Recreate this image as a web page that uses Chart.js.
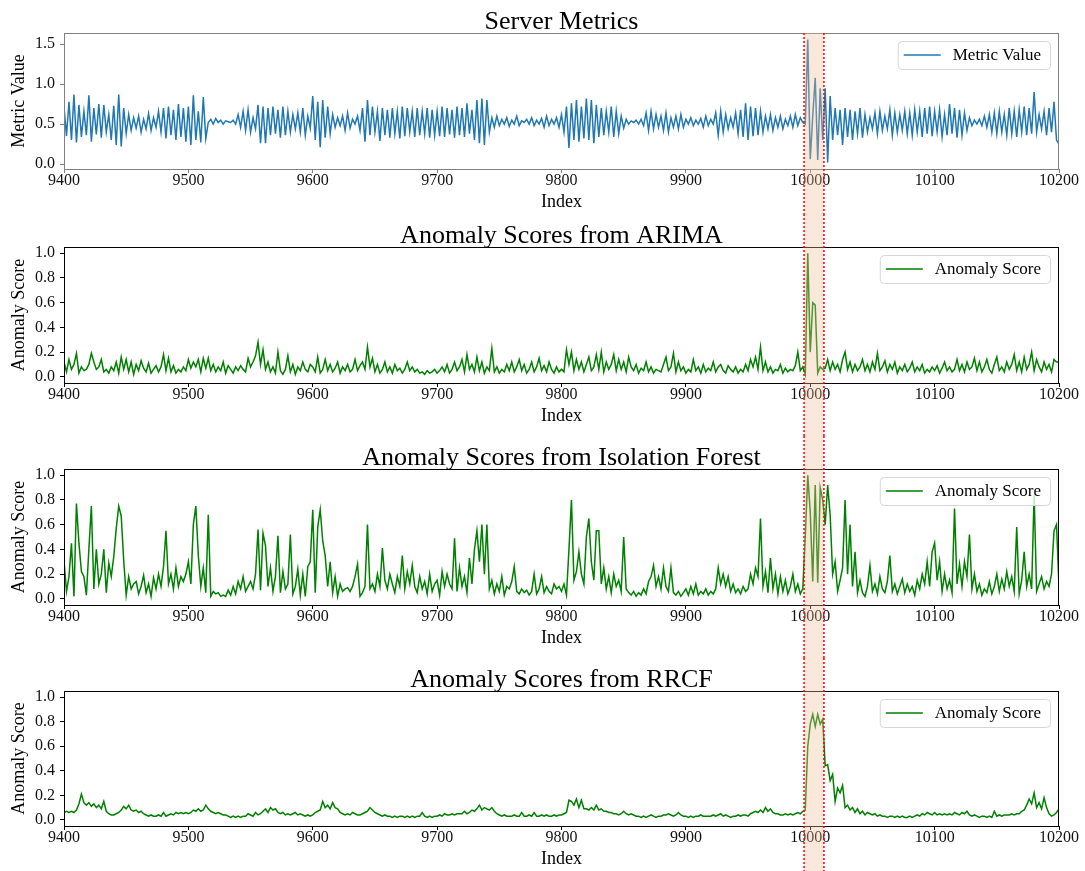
<!DOCTYPE html>
<html>
<head>
<meta charset="utf-8">
<script src="https://cdn.jsdelivr.net/npm/chart.js@4.4.0/dist/chart.umd.min.js"></script>
<style>
  body { margin: 0; background: #fff; }
  #fig { width: 1085px; height: 871px; }
  canvas { display: block; }
</style>
</head>
<body>
<div id="fig">
  <canvas id="c1" width="1085" height="214"></canvas>
  <canvas id="c2" width="1085" height="222"></canvas>
  <canvas id="c3" width="1085" height="222"></canvas>
  <canvas id="c4" width="1085" height="213"></canvas>
</div>
<script>
const SERIF = "'Liberation Serif', 'Times New Roman', serif";

// index axis
const xStart = 9400;
const xTicks = [9400, 9500, 9600, 9700, 9800, 9900, 10000, 10100, 10200];
const metricTicks = [0, 0.5, 1.0, 1.5];
const scoreTicks = [0, 0.2, 0.4, 0.6, 0.8, 1.0];
const anomalyWindow = [9995, 10011];

// all series read every 2 indices
const step = 2;

const metricValue = [
  0.72,0.35,0.78,0.30,0.87,0.27,0.74,0.34,0.66,0.36,0.86,0.28,0.70,0.37,0.75,0.33,0.74,0.40,0.62,0.30,
  0.73,0.24,0.87,0.22,0.70,0.38,0.62,0.42,0.58,0.45,0.60,0.40,0.56,0.44,0.63,0.42,0.58,0.46,0.66,0.40,
  0.70,0.32,0.72,0.36,0.68,0.30,0.75,0.34,0.70,0.28,0.72,0.24,0.86,0.30,0.66,0.27,0.84,0.32,0.52,0.56,
  0.50,0.57,0.52,0.55,0.50,0.54,0.53,0.52,0.55,0.50,0.62,0.46,0.66,0.42,0.68,0.40,0.58,0.44,0.74,0.26,
  0.72,0.26,0.70,0.36,0.72,0.38,0.68,0.33,0.72,0.36,0.66,0.40,0.62,0.44,0.64,0.40,0.70,0.36,0.60,0.45,
  0.85,0.30,0.78,0.21,0.80,0.33,0.72,0.38,0.62,0.46,0.58,0.48,0.60,0.42,0.64,0.45,0.56,0.50,0.60,0.42,
  0.70,0.28,0.80,0.36,0.72,0.40,0.66,0.29,0.70,0.36,0.68,0.33,0.70,0.38,0.66,0.32,0.72,0.35,0.70,0.40,
  0.66,0.34,0.70,0.36,0.66,0.38,0.70,0.33,0.68,0.36,0.66,0.35,0.72,0.34,0.70,0.37,0.68,0.33,0.72,0.36,
  0.70,0.34,0.76,0.38,0.68,0.30,0.80,0.26,0.82,0.24,0.80,0.40,0.58,0.46,0.60,0.48,0.56,0.50,0.58,0.47,
  0.55,0.50,0.60,0.48,0.54,0.52,0.56,0.50,0.58,0.48,0.55,0.50,0.57,0.46,0.60,0.48,0.56,0.50,0.58,0.46,
  0.62,0.40,0.72,0.20,0.76,0.30,0.80,0.28,0.72,0.32,0.82,0.30,0.80,0.26,0.74,0.34,0.70,0.36,0.66,0.40,
  0.72,0.34,0.66,0.38,0.60,0.45,0.56,0.50,0.54,0.52,0.55,0.50,0.56,0.48,0.64,0.42,0.66,0.44,0.62,0.46,
  0.60,0.42,0.64,0.40,0.58,0.46,0.60,0.44,0.62,0.46,0.56,0.50,0.58,0.48,0.55,0.50,0.57,0.46,0.60,0.48,
  0.56,0.50,0.64,0.36,0.66,0.40,0.62,0.44,0.58,0.46,0.64,0.38,0.68,0.34,0.76,0.30,0.72,0.35,0.70,0.36,
  0.66,0.40,0.60,0.44,0.62,0.42,0.58,0.46,0.60,0.44,0.56,0.48,0.60,0.46,0.62,0.48,0.58,0.52,0.50,1.56,
  0.06,0.60,1.08,0.05,0.95,0.30,0.95,0.02,0.85,0.30,0.70,0.36,0.68,0.24,0.70,0.34,0.68,0.30,0.66,0.38,
  0.70,0.33,0.62,0.40,0.58,0.44,0.64,0.38,0.66,0.42,0.60,0.44,0.68,0.36,0.64,0.40,0.62,0.42,0.66,0.38,
  0.64,0.36,0.68,0.40,0.66,0.34,0.70,0.38,0.72,0.35,0.66,0.40,0.68,0.34,0.62,0.36,0.75,0.38,0.70,0.33,
  0.68,0.36,0.64,0.42,0.58,0.48,0.55,0.50,0.56,0.48,0.60,0.46,0.62,0.40,0.64,0.38,0.66,0.40,0.62,0.36,
  0.70,0.38,0.66,0.34,0.68,0.40,0.72,0.36,0.70,0.38,0.90,0.40,0.62,0.44,0.66,0.36,0.70,0.40,0.78,0.30,
  0.25
];

const arimaScore = [
  0.12,0.04,0.14,0.06,0.10,0.19,0.03,0.08,0.05,0.06,0.10,0.19,0.12,0.06,0.08,0.14,0.04,0.06,0.03,0.08,
  0.05,0.12,0.03,0.16,0.06,0.14,0.04,0.12,0.02,0.10,0.05,0.13,0.07,0.04,0.11,0.03,0.06,0.09,0.04,0.08,
  0.18,0.05,0.15,0.04,0.09,0.03,0.06,0.04,0.08,0.05,0.14,0.07,0.12,0.08,0.14,0.04,0.15,0.07,0.15,0.05,
  0.10,0.04,0.08,0.05,0.12,0.03,0.09,0.06,0.03,0.08,0.05,0.09,0.06,0.04,0.15,0.08,0.12,0.17,0.28,0.10,
  0.22,0.06,0.12,0.04,0.08,0.03,0.20,0.05,0.02,0.06,0.17,0.04,0.10,0.02,0.08,0.05,0.12,0.06,0.04,0.10,
  0.08,0.04,0.16,0.03,0.06,0.14,0.05,0.10,0.04,0.07,0.12,0.03,0.08,0.05,0.10,0.04,0.06,0.14,0.05,0.09,
  0.12,0.06,0.24,0.08,0.15,0.04,0.10,0.03,0.06,0.12,0.04,0.08,0.03,0.10,0.05,0.07,0.03,0.06,0.12,0.05,
  0.08,0.04,0.06,0.03,0.04,0.02,0.05,0.03,0.04,0.06,0.03,0.05,0.08,0.04,0.10,0.03,0.06,0.12,0.05,0.08,
  0.14,0.04,0.18,0.06,0.10,0.04,0.16,0.05,0.12,0.03,0.08,0.05,0.23,0.04,0.08,0.03,0.06,0.04,0.10,0.05,
  0.12,0.04,0.08,0.14,0.05,0.10,0.03,0.06,0.12,0.04,0.08,0.15,0.05,0.09,0.04,0.12,0.06,0.03,0.08,0.04,
  0.06,0.04,0.22,0.10,0.20,0.05,0.14,0.06,0.12,0.04,0.10,0.16,0.05,0.08,0.18,0.06,0.20,0.04,0.12,0.06,
  0.10,0.18,0.05,0.14,0.06,0.12,0.04,0.16,0.08,0.05,0.10,0.03,0.07,0.05,0.12,0.04,0.08,0.03,0.06,0.05,
  0.04,0.10,0.16,0.05,0.08,0.19,0.04,0.12,0.05,0.08,0.03,0.06,0.04,0.14,0.05,0.08,0.03,0.10,0.04,0.07,
  0.05,0.12,0.04,0.08,0.10,0.05,0.03,0.09,0.06,0.04,0.08,0.03,0.06,0.04,0.10,0.05,0.14,0.08,0.16,0.06,
  0.24,0.05,0.12,0.04,0.08,0.03,0.06,0.05,0.10,0.03,0.07,0.04,0.06,0.05,0.09,0.20,0.05,0.08,0.02,1.00,
  0.20,0.60,0.58,0.03,0.08,0.06,0.07,0.14,0.05,0.12,0.06,0.10,0.04,0.14,0.20,0.06,0.12,0.04,0.10,0.05,
  0.08,0.14,0.05,0.10,0.04,0.12,0.06,0.19,0.05,0.08,0.13,0.04,0.10,0.06,0.12,0.03,0.08,0.05,0.10,0.04,
  0.07,0.12,0.04,0.08,0.05,0.10,0.03,0.06,0.04,0.08,0.05,0.09,0.03,0.07,0.12,0.05,0.08,0.04,0.06,0.14,
  0.05,0.10,0.04,0.12,0.06,0.08,0.15,0.05,0.12,0.04,0.08,0.14,0.06,0.03,0.10,0.16,0.05,0.08,0.04,0.12,
  0.06,0.10,0.18,0.05,0.12,0.04,0.16,0.06,0.10,0.20,0.05,0.14,0.08,0.04,0.12,0.06,0.10,0.04,0.14,0.12,
  0.12
];

const iforestScore = [
  0.31,0.06,0.18,0.45,0.02,0.77,0.45,0.22,0.18,0.03,0.40,0.75,0.08,0.40,0.12,0.20,0.40,0.05,0.29,0.18,
  0.34,0.57,0.75,0.67,0.31,0.03,0.18,0.08,0.12,0.14,0.04,0.10,0.19,0.05,0.12,0.02,0.17,0.08,0.20,0.10,
  0.26,0.55,0.12,0.20,0.08,0.25,0.10,0.18,0.14,0.20,0.30,0.12,0.60,0.75,0.35,0.10,0.25,0.05,0.68,0.02,
  0.06,0.04,0.05,0.02,0.03,0.02,0.07,0.03,0.10,0.04,0.14,0.08,0.18,0.06,0.10,0.14,0.08,0.20,0.56,0.07,
  0.53,0.43,0.10,0.25,0.06,0.18,0.51,0.05,0.22,0.08,0.12,0.52,0.04,0.10,0.24,0.03,0.20,0.02,0.26,0.30,
  0.72,0.05,0.58,0.72,0.47,0.35,0.10,0.30,0.05,0.18,0.02,0.12,0.06,0.08,0.09,0.06,0.10,0.18,0.28,0.02,
  0.05,0.10,0.60,0.08,0.12,0.06,0.20,0.10,0.41,0.15,0.08,0.20,0.12,0.05,0.18,0.10,0.35,0.08,0.22,0.12,
  0.27,0.10,0.05,0.18,0.08,0.14,0.04,0.20,0.06,0.12,0.15,0.03,0.22,0.10,0.20,0.12,0.08,0.49,0.06,0.25,
  0.10,0.18,0.05,0.33,0.12,0.40,0.55,0.30,0.60,0.20,0.60,0.08,0.15,0.04,0.12,0.06,0.18,0.03,0.10,0.08,
  0.14,0.26,0.06,0.04,0.08,0.05,0.07,0.03,0.06,0.20,0.04,0.08,0.18,0.05,0.10,0.06,0.04,0.12,0.08,0.10,
  0.06,0.12,0.03,0.40,0.80,0.15,0.22,0.38,0.20,0.12,0.50,0.65,0.30,0.15,0.55,0.55,0.12,0.25,0.08,0.18,
  0.05,0.20,0.10,0.15,0.06,0.50,0.08,0.05,0.03,0.06,0.02,0.05,0.03,0.08,0.04,0.14,0.18,0.27,0.10,0.18,
  0.08,0.25,0.10,0.06,0.25,0.05,0.03,0.06,0.02,0.05,0.08,0.03,0.10,0.04,0.12,0.03,0.06,0.04,0.08,0.03,
  0.06,0.04,0.08,0.25,0.12,0.20,0.10,0.18,0.06,0.12,0.05,0.08,0.04,0.10,0.06,0.08,0.20,0.12,0.25,0.18,
  0.65,0.10,0.22,0.05,0.33,0.08,0.20,0.04,0.18,0.06,0.15,0.04,0.10,0.20,0.06,0.12,0.04,0.08,0.50,1.00,
  0.70,0.14,0.92,0.13,0.90,0.80,0.60,0.92,0.68,0.20,0.30,0.06,0.15,0.25,0.80,0.20,0.60,0.10,0.38,0.05,
  0.15,0.05,0.02,0.10,0.27,0.06,0.12,0.04,0.18,0.08,0.05,0.14,0.35,0.06,0.12,0.04,0.10,0.16,0.05,0.12,
  0.06,0.10,0.03,0.15,0.08,0.20,0.12,0.30,0.10,0.38,0.45,0.15,0.30,0.06,0.20,0.08,0.15,0.05,0.73,0.12,
  0.28,0.10,0.30,0.18,0.52,0.08,0.20,0.06,0.12,0.03,0.08,0.05,0.14,0.04,0.10,0.20,0.06,0.16,0.08,0.22,
  0.10,0.18,0.06,0.58,0.04,0.15,0.38,0.10,0.20,0.08,0.85,0.06,0.12,0.18,0.08,0.14,0.10,0.20,0.55,0.60,
  0.10
];

const rrcfScore = [
  0.06,0.07,0.06,0.07,0.06,0.08,0.13,0.21,0.14,0.12,0.14,0.11,0.13,0.10,0.12,0.09,0.15,0.07,0.05,0.04,
  0.04,0.05,0.06,0.08,0.11,0.09,0.12,0.08,0.07,0.08,0.06,0.07,0.05,0.04,0.03,0.04,0.03,0.03,0.04,0.03,
  0.06,0.03,0.04,0.05,0.04,0.06,0.05,0.06,0.05,0.06,0.05,0.06,0.08,0.07,0.09,0.07,0.08,0.12,0.09,0.07,
  0.06,0.05,0.06,0.05,0.04,0.04,0.03,0.02,0.03,0.02,0.03,0.02,0.03,0.03,0.05,0.04,0.03,0.06,0.04,0.05,
  0.07,0.09,0.06,0.10,0.08,0.09,0.06,0.05,0.06,0.04,0.05,0.04,0.05,0.06,0.04,0.05,0.04,0.03,0.04,0.03,
  0.04,0.06,0.07,0.08,0.15,0.10,0.12,0.09,0.14,0.10,0.09,0.06,0.05,0.04,0.05,0.04,0.06,0.05,0.04,0.04,
  0.05,0.06,0.07,0.10,0.08,0.06,0.05,0.04,0.03,0.04,0.03,0.03,0.02,0.03,0.02,0.03,0.03,0.02,0.03,0.02,
  0.03,0.02,0.03,0.03,0.06,0.03,0.02,0.03,0.02,0.03,0.03,0.04,0.03,0.05,0.04,0.04,0.05,0.04,0.05,0.05,
  0.05,0.07,0.05,0.06,0.08,0.07,0.09,0.12,0.08,0.10,0.09,0.08,0.10,0.07,0.05,0.04,0.03,0.04,0.03,0.03,
  0.03,0.04,0.03,0.03,0.06,0.03,0.03,0.04,0.03,0.06,0.03,0.03,0.04,0.03,0.04,0.03,0.03,0.04,0.03,0.04,
  0.04,0.05,0.06,0.16,0.15,0.12,0.17,0.10,0.16,0.09,0.09,0.08,0.10,0.08,0.12,0.08,0.09,0.07,0.07,0.06,
  0.06,0.05,0.05,0.04,0.05,0.07,0.05,0.04,0.05,0.04,0.03,0.03,0.02,0.03,0.02,0.03,0.04,0.03,0.02,0.03,
  0.03,0.04,0.04,0.05,0.04,0.03,0.04,0.06,0.04,0.03,0.03,0.02,0.03,0.02,0.03,0.03,0.04,0.03,0.03,0.03,
  0.03,0.04,0.03,0.04,0.05,0.03,0.04,0.03,0.02,0.03,0.03,0.04,0.03,0.04,0.04,0.03,0.05,0.06,0.07,0.06,
  0.08,0.06,0.10,0.07,0.09,0.06,0.05,0.05,0.04,0.04,0.05,0.04,0.05,0.04,0.05,0.06,0.05,0.07,0.08,0.60,
  0.78,0.86,0.76,0.86,0.78,0.82,0.44,0.45,0.32,0.37,0.15,0.26,0.22,0.28,0.10,0.12,0.08,0.10,0.06,0.09,
  0.05,0.07,0.04,0.06,0.05,0.04,0.05,0.03,0.04,0.03,0.03,0.02,0.03,0.03,0.02,0.03,0.02,0.03,0.02,0.02,
  0.03,0.02,0.03,0.04,0.03,0.05,0.04,0.06,0.05,0.04,0.06,0.04,0.05,0.04,0.05,0.04,0.05,0.04,0.06,0.05,
  0.04,0.06,0.05,0.07,0.04,0.03,0.04,0.03,0.02,0.03,0.03,0.02,0.03,0.02,0.07,0.03,0.04,0.03,0.04,0.04,
  0.04,0.05,0.04,0.05,0.05,0.07,0.08,0.12,0.17,0.13,0.22,0.10,0.14,0.09,0.18,0.10,0.05,0.03,0.04,0.06,
  0.09
];

function toPoints(values) {
  return values.map((v, i) => ({ x: xStart + i * step, y: v }));
}

// frame, shaded anomaly window, red dotted bounds, matplotlib-like legend
const decorations = {
  id: 'decorations',
  afterDraw(chart, args, opts) {
    const { ctx, chartArea } = chart;
    const xs = chart.scales.x;
    ctx.save();

    ctx.strokeStyle = opts.frameColor;
    ctx.lineWidth = 1;
    ctx.strokeRect(chartArea.left + 0.5, chartArea.top + 0.5,
      chartArea.right - chartArea.left - 1, chartArea.bottom - chartArea.top);

    const x0 = xs.getPixelForValue(anomalyWindow[0]);
    const x1 = xs.getPixelForValue(anomalyWindow[1]);
    const top = opts.first ? chartArea.top : 0;
    ctx.fillStyle = 'rgba(240,190,150,0.35)';
    ctx.fillRect(x0, top, x1 - x0, chart.height - top);

    ctx.strokeStyle = 'red';
    ctx.lineWidth = 1.5;
    ctx.setLineDash([2, 2]);
    [x0, x1].forEach(x => {
      ctx.beginPath();
      ctx.moveTo(x, top);
      ctx.lineTo(x, chart.height);
      ctx.stroke();
    });
    ctx.setLineDash([]);

    const ds = chart.data.datasets[0];
    ctx.font = '17px ' + SERIF;
    const tw = ctx.measureText(ds.label).width;
    const w = 6 + 37 + 12 + tw + 9, h = 28;
    const lx = chartArea.right - 9 - w, ly = chartArea.top + 8;
    ctx.beginPath();
    ctx.roundRect(lx + 0.5, ly + 0.5, w, h, 4);
    ctx.fillStyle = 'rgba(255,255,255,0.8)';
    ctx.fill();
    ctx.strokeStyle = '#d6d6d6';
    ctx.lineWidth = 1;
    ctx.stroke();
    ctx.strokeStyle = ds.borderColor;
    ctx.lineWidth = 1.5;
    ctx.beginPath();
    ctx.moveTo(lx + 6, ly + h / 2);
    ctx.lineTo(lx + 43, ly + h / 2);
    ctx.stroke();
    ctx.fillStyle = '#000';
    ctx.textBaseline = 'middle';
    ctx.fillText(ds.label, lx + 55, ly + h / 2 + 1);

    ctx.restore();
  }
};

function makeChart(id, cfg) {
  const axisColor = cfg.frameColor;
  return new Chart(document.getElementById(id), {
    type: 'line',
    data: {
      datasets: [{
        label: cfg.label,
        data: toPoints(cfg.values),
        borderColor: cfg.color,
        borderWidth: 1.5,
        pointRadius: 0,
        tension: 0
      }]
    },
    options: {
      responsive: false,
      animation: false,
      devicePixelRatio: 1,
      layout: { padding: { top: 0, right: 26, bottom: cfg.padBottom, left: 0 } },
      plugins: {
        legend: { display: false },
        tooltip: { enabled: false },
        title: {
          display: true,
          fullSize: false,
          text: cfg.title,
          color: '#000',
          font: { family: SERIF, size: 26, weight: 'normal', lineHeight: 1 },
          padding: { top: 9, bottom: -2 }
        },
        decorations: { frameColor: axisColor, first: cfg.first }
      },
      scales: {
        x: {
          type: 'linear',
          min: 9400,
          max: 10200,
          afterBuildTicks: s => { s.ticks = xTicks.map(v => ({ value: v })); },
          afterFit: s => { s.height = 45; },
          ticks: {
            color: '#111',
            padding: 0,
            maxRotation: 0,
            font: { family: SERIF, size: 16, lineHeight: 1 },
            callback: v => String(v)
          },
          grid: { drawOnChartArea: false, drawTicks: true, tickLength: 4, color: axisColor },
          border: { display: true, color: axisColor },
          title: {
            display: true,
            text: 'Index',
            color: '#000',
            font: { family: SERIF, size: 18 },
            padding: { top: 0, bottom: 1 }
          }
        },
        y: {
          min: cfg.yMin,
          max: cfg.yMax,
          afterBuildTicks: s => { s.ticks = cfg.yTicks.map(v => ({ value: v })); },
          afterFit: s => { s.width = 64; },
          ticks: {
            color: '#111',
            padding: 5,
            font: { family: SERIF, size: 16 },
            callback: v => v.toFixed(1)
          },
          grid: { drawOnChartArea: false, drawTicks: true, tickLength: 4, color: axisColor },
          border: { display: true, color: axisColor },
          title: {
            display: true,
            text: cfg.yTitle,
            color: '#000',
            font: { family: SERIF, size: 18 },
            padding: { top: 8, bottom: 0 }
          }
        }
      }
    },
    plugins: [decorations]
  });
}

makeChart('c1', {
  title: 'Server Metrics', label: 'Metric Value', yTitle: 'Metric Value',
  values: metricValue, color: '#1f77b4',
  yMin: -0.0625, yMax: 1.641, yTicks: metricTicks,
  frameColor: '#808080', first: true, padBottom: 0
});
makeChart('c2', {
  title: 'Anomaly Scores from ARIMA', label: 'Anomaly Score', yTitle: 'Anomaly Score',
  values: arimaScore, color: 'green',
  yMin: -0.05, yMax: 1.05, yTicks: scoreTicks,
  frameColor: '#000', first: false, padBottom: 8
});
makeChart('c3', {
  title: 'Anomaly Scores from Isolation Forest', label: 'Anomaly Score', yTitle: 'Anomaly Score',
  values: iforestScore, color: 'green',
  yMin: -0.05, yMax: 1.05, yTicks: scoreTicks,
  frameColor: '#000', first: false, padBottom: 8
});
makeChart('c4', {
  title: 'Anomaly Scores from RRCF', label: 'Anomaly Score', yTitle: 'Anomaly Score',
  values: rrcfScore, color: 'green',
  yMin: -0.05, yMax: 1.05, yTicks: scoreTicks,
  frameColor: '#000', first: false, padBottom: 0
});
</script>
</body>
</html>
